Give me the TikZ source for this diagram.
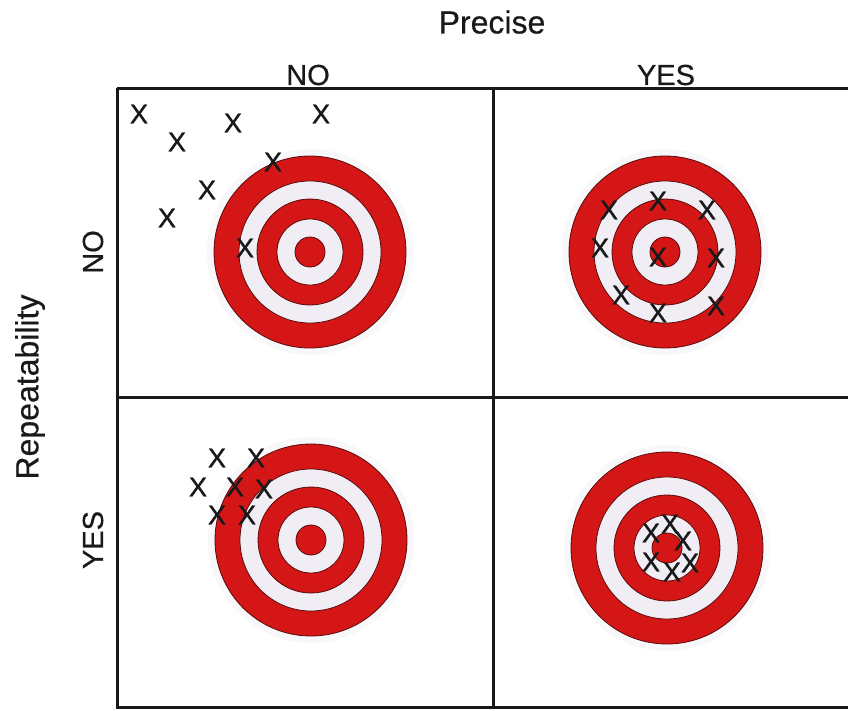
\documentclass[tikz,border=0pt]{standalone}
\usepackage{fontspec}
\setmainfont{Liberation Sans}
\newfontfamily\heavyfont{Liberation Sans}[FakeBold=1.2]
\newfontfamily\labelfont{Liberation Sans}[FakeBold=0.5]
\definecolor{tred}{RGB}{212,22,22}
\definecolor{twhite}{RGB}{240,238,244}
\definecolor{tedge}{RGB}{90,10,10}
\definecolor{tline}{RGB}{25,25,25}
\definecolor{halo}{RGB}{248,247,250}
\begin{document}
\begin{tikzpicture}[x=1pt,y=-1pt,
  gridline/.style={line width=3pt, draw=tline},
  xmark/.style={font=\heavyfont\fontsize{27}{27}\selectfont, inner sep=0pt, text=black!90},
  lbl/.style={font=\labelfont\fontsize{29}{29}\selectfont, inner sep=0pt, text=black!90},
  axislbl/.style={font=\labelfont\fontsize{32}{32}\selectfont, inner sep=0pt, text=black!90},
  ring/.style={line width=0.8pt, draw=tedge},
  target/.pic={
    \fill[halo] (0,0) circle (103pt);
    \filldraw[ring, fill=tred] (0,0) circle (96pt);
    \filldraw[ring, fill=twhite] (0,0) circle (71pt);
    \filldraw[ring, fill=tred] (0,0) circle (53pt);
    \filldraw[ring, fill=twhite] (0,0) circle (33pt);
    \filldraw[ring, fill=tred] (0,0) circle (15pt);
  }]
\useasboundingbox (0,0) rectangle (848,710);
\fill[white] (0,0) rectangle (848,710);

% targets
\pic (tTL) at (310,252) {target};
\pic (tTR) at (665,252) {target};
\pic (tBL) at (311,540) {target};
\pic (tBR) at (667,548) {target};

% grid
\draw[gridline] (117,88) -- (848,88);
\draw[gridline] (117,397) -- (848,397);
\draw[gridline] (117,707) -- (848,707);
\draw[gridline] (117,88) -- (117,708.5);
\draw[gridline] (493,88) -- (493,708.5);

% labels
\node[axislbl] (precise) at (492,22) {Precise};
\node[lbl] (colno) at (308,75) {NO};
\node[lbl] (colyes) at (666,75) {YES};
\node[axislbl, rotate=90] (repeat) at (30,387) {Repeatability};
\node[lbl, rotate=90] (rowno) at (93,252) {NO};
\node[lbl, rotate=90] (rowyes) at (93,540) {YES};

% top-left: not repeatable, not precise
\node[xmark] (a1) at (139,114) {X};
\node[xmark] (a2) at (177,142) {X};
\node[xmark] (a3) at (233,123) {X};
\node[xmark] (a4) at (321,114) {X};
\node[xmark] (a5) at (273,162) {X};
\node[xmark] (a6) at (207,190) {X};
\node[xmark] (a7) at (167,218) {X};
\node[xmark] (a8) at (245,248) {X};

% top-right
\node[xmark] (b1) at (609,210) {X};
\node[xmark] (b2) at (658,201) {X};
\node[xmark] (b3) at (707,210) {X};
\node[xmark] (b4) at (600,248) {X};
\node[xmark] (b5) at (658,257) {X};
\node[xmark] (b6) at (716,258) {X};
\node[xmark] (b7) at (621,295) {X};
\node[xmark] (b8) at (658,313) {X};
\node[xmark] (b9) at (716,306) {X};

% bottom-left
\node[xmark] (c1) at (217,458) {X};
\node[xmark] (c2) at (256,458) {X};
\node[xmark] (c3) at (198,487) {X};
\node[xmark] (c4) at (235,487) {X};
\node[xmark] (c5) at (264,489) {X};
\node[xmark] (c6) at (217,515) {X};
\node[xmark] (c7) at (247,515) {X};

% bottom-right
\node[xmark] (d1) at (670,524) {X};
\node[xmark] (d2) at (651,533) {X};
\node[xmark] (d3) at (683,541) {X};
\node[xmark] (d4) at (651,562) {X};
\node[xmark] (d5) at (672,572) {X};
\node[xmark] (d6) at (690,563) {X};
\end{tikzpicture}
\end{document}
